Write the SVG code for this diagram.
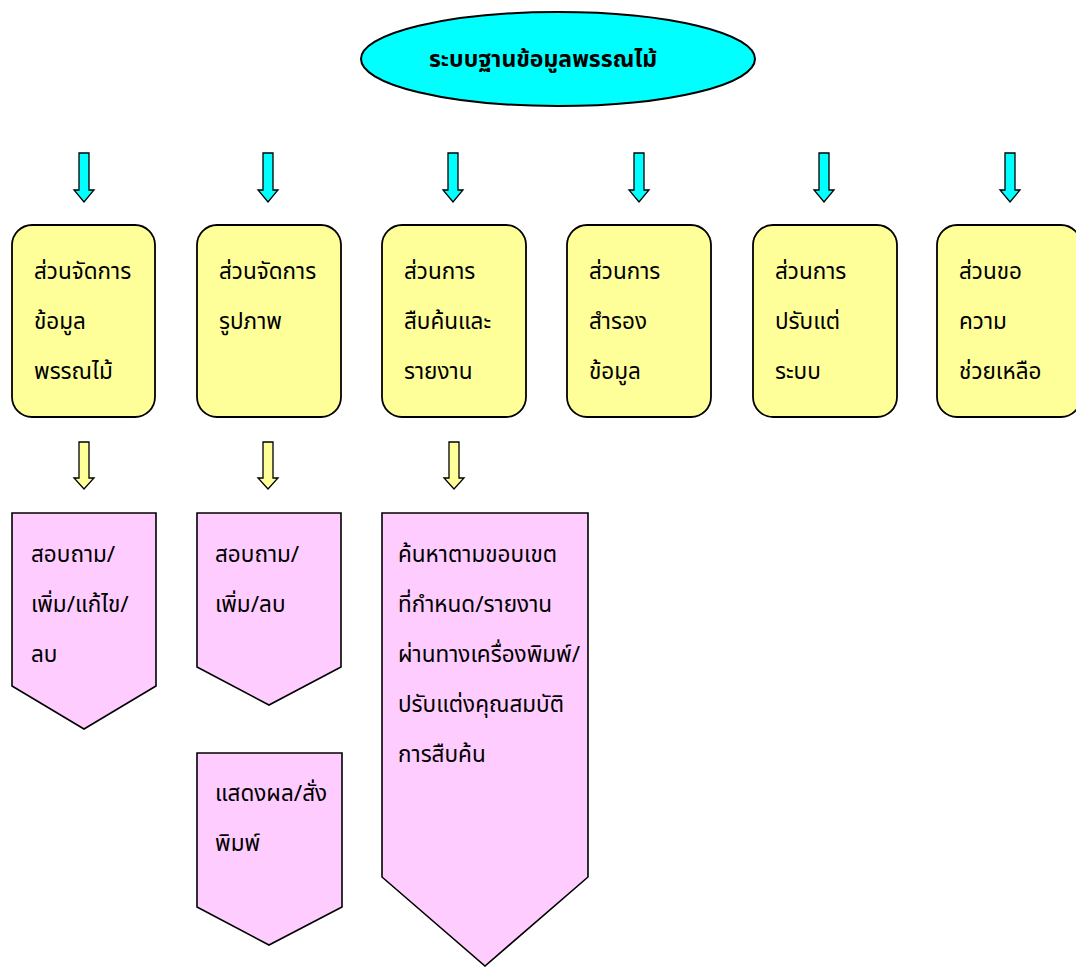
<svg xmlns="http://www.w3.org/2000/svg" width="1076" height="967" viewBox="0 0 1076 967">
<style>
text{font-family:"Noto Sans Thai","Noto Sans","DejaVu Sans",sans-serif;font-size:22.5px;fill:#000}
.title{font-weight:bold;font-size:23px;text-anchor:middle}
.box{fill:#FFFF99;stroke:#000;stroke-width:1.8}
.pent{fill:#FFCCFF;stroke:#000;stroke-width:1.6}
.ca{fill:#00FFFF;stroke:#000;stroke-width:1.3}
.ya{fill:#FFFF99;stroke:#000;stroke-width:1.3}
</style>
<rect width="1076" height="967" fill="#fff"/>
<g id="root">
<ellipse cx="558" cy="59" rx="197" ry="47" fill="#00FFFF" stroke="#000" stroke-width="2"/>
<text class="title" x="543" y="67">ระบบฐานข้อมูลพรรณไม้</text>
</g>
<g id="connectors">
<polygon class="ca" points="79,153 89,153 89,190 94,190 84,202 74,190 79,190"/>
<polygon class="ca" points="263,153 273,153 273,190 278,190 268,202 258,190 263,190"/>
<polygon class="ca" points="448,153 458,153 458,190 463,190 453,202 443,190 448,190"/>
<polygon class="ca" points="634,153 644,153 644,190 649,190 639,202 629,190 634,190"/>
<polygon class="ca" points="819,153 829,153 829,190 834,190 824,202 814,190 819,190"/>
<polygon class="ca" points="1005,153 1015,153 1015,190 1020,190 1010,202 1000,190 1005,190"/>
<polygon class="ya" points="79,442 89,442 89,478 94,478 84,489 74,478 79,478"/>
<polygon class="ya" points="263,442 273,442 273,478 278,478 268,489 258,478 263,478"/>
<polygon class="ya" points="449,442 459,442 459,478 464,478 454,489 444,478 449,478"/>
</g>
<g id="n1"><rect class="box" x="12" y="225" width="143" height="192" rx="20"/>
<text x="34" y="279">ส่วนจัดการ</text><text x="34" y="329">ข้อมูล</text><text x="34" y="379">พรรณไม้</text></g>
<g id="n2"><rect class="box" x="197" y="225" width="144" height="192" rx="20"/>
<text x="219" y="279">ส่วนจัดการ</text><text x="219" y="329">รูปภาพ</text></g>
<g id="n3"><rect class="box" x="382" y="225" width="144" height="192" rx="20"/>
<text x="404" y="279">ส่วนการ</text><text x="404" y="329">สืบค้นและ</text><text x="404" y="379">รายงาน</text></g>
<g id="n4"><rect class="box" x="567" y="225" width="144" height="192" rx="20"/>
<text x="589" y="279">ส่วนการ</text><text x="589" y="329">สำรอง</text><text x="589" y="379">ข้อมูล</text></g>
<g id="n5"><rect class="box" x="753" y="225" width="144" height="192" rx="20"/>
<text x="775" y="279">ส่วนการ</text><text x="775" y="329">ปรับแต่</text><text x="775" y="379">ระบบ</text></g>
<g id="n6"><rect class="box" x="937" y="225" width="144" height="192" rx="20"/>
<text x="959" y="279">ส่วนขอ</text><text x="959" y="329">ความ</text><text x="959" y="379">ช่วยเหลือ</text></g>
<g id="p1"><polygon class="pent" points="12,513 156,513 156,686 84,729 12,686"/>
<text x="31" y="562">สอบถาม/</text><text x="31" y="612">เพิ่ม/แก้ไข/</text><text x="31" y="662">ลบ</text></g>
<g id="p2"><polygon class="pent" points="197,513 341,513 341,667 269,705 197,667"/>
<text x="215" y="562">สอบถาม/</text><text x="215" y="612">เพิ่ม/ลบ</text></g>
<g id="p3"><polygon class="pent" points="382,513 588,513 588,877 485,966 382,877"/>
<text x="398" y="562">ค้นหาตามขอบเขต</text><text x="398" y="612">ที่กำหนด/รายงาน</text><text x="398" y="662">ผ่านทางเครื่องพิมพ์/</text><text x="398" y="712">ปรับแต่งคุณสมบัติ</text><text x="398" y="762">การสืบค้น</text></g>
<g id="p4"><polygon class="pent" points="197,753 342,753 342,907 269,945 197,907"/>
<text x="215" y="801">แสดงผล/สั่ง</text><text x="215" y="851">พิมพ์</text></g>
</svg>
